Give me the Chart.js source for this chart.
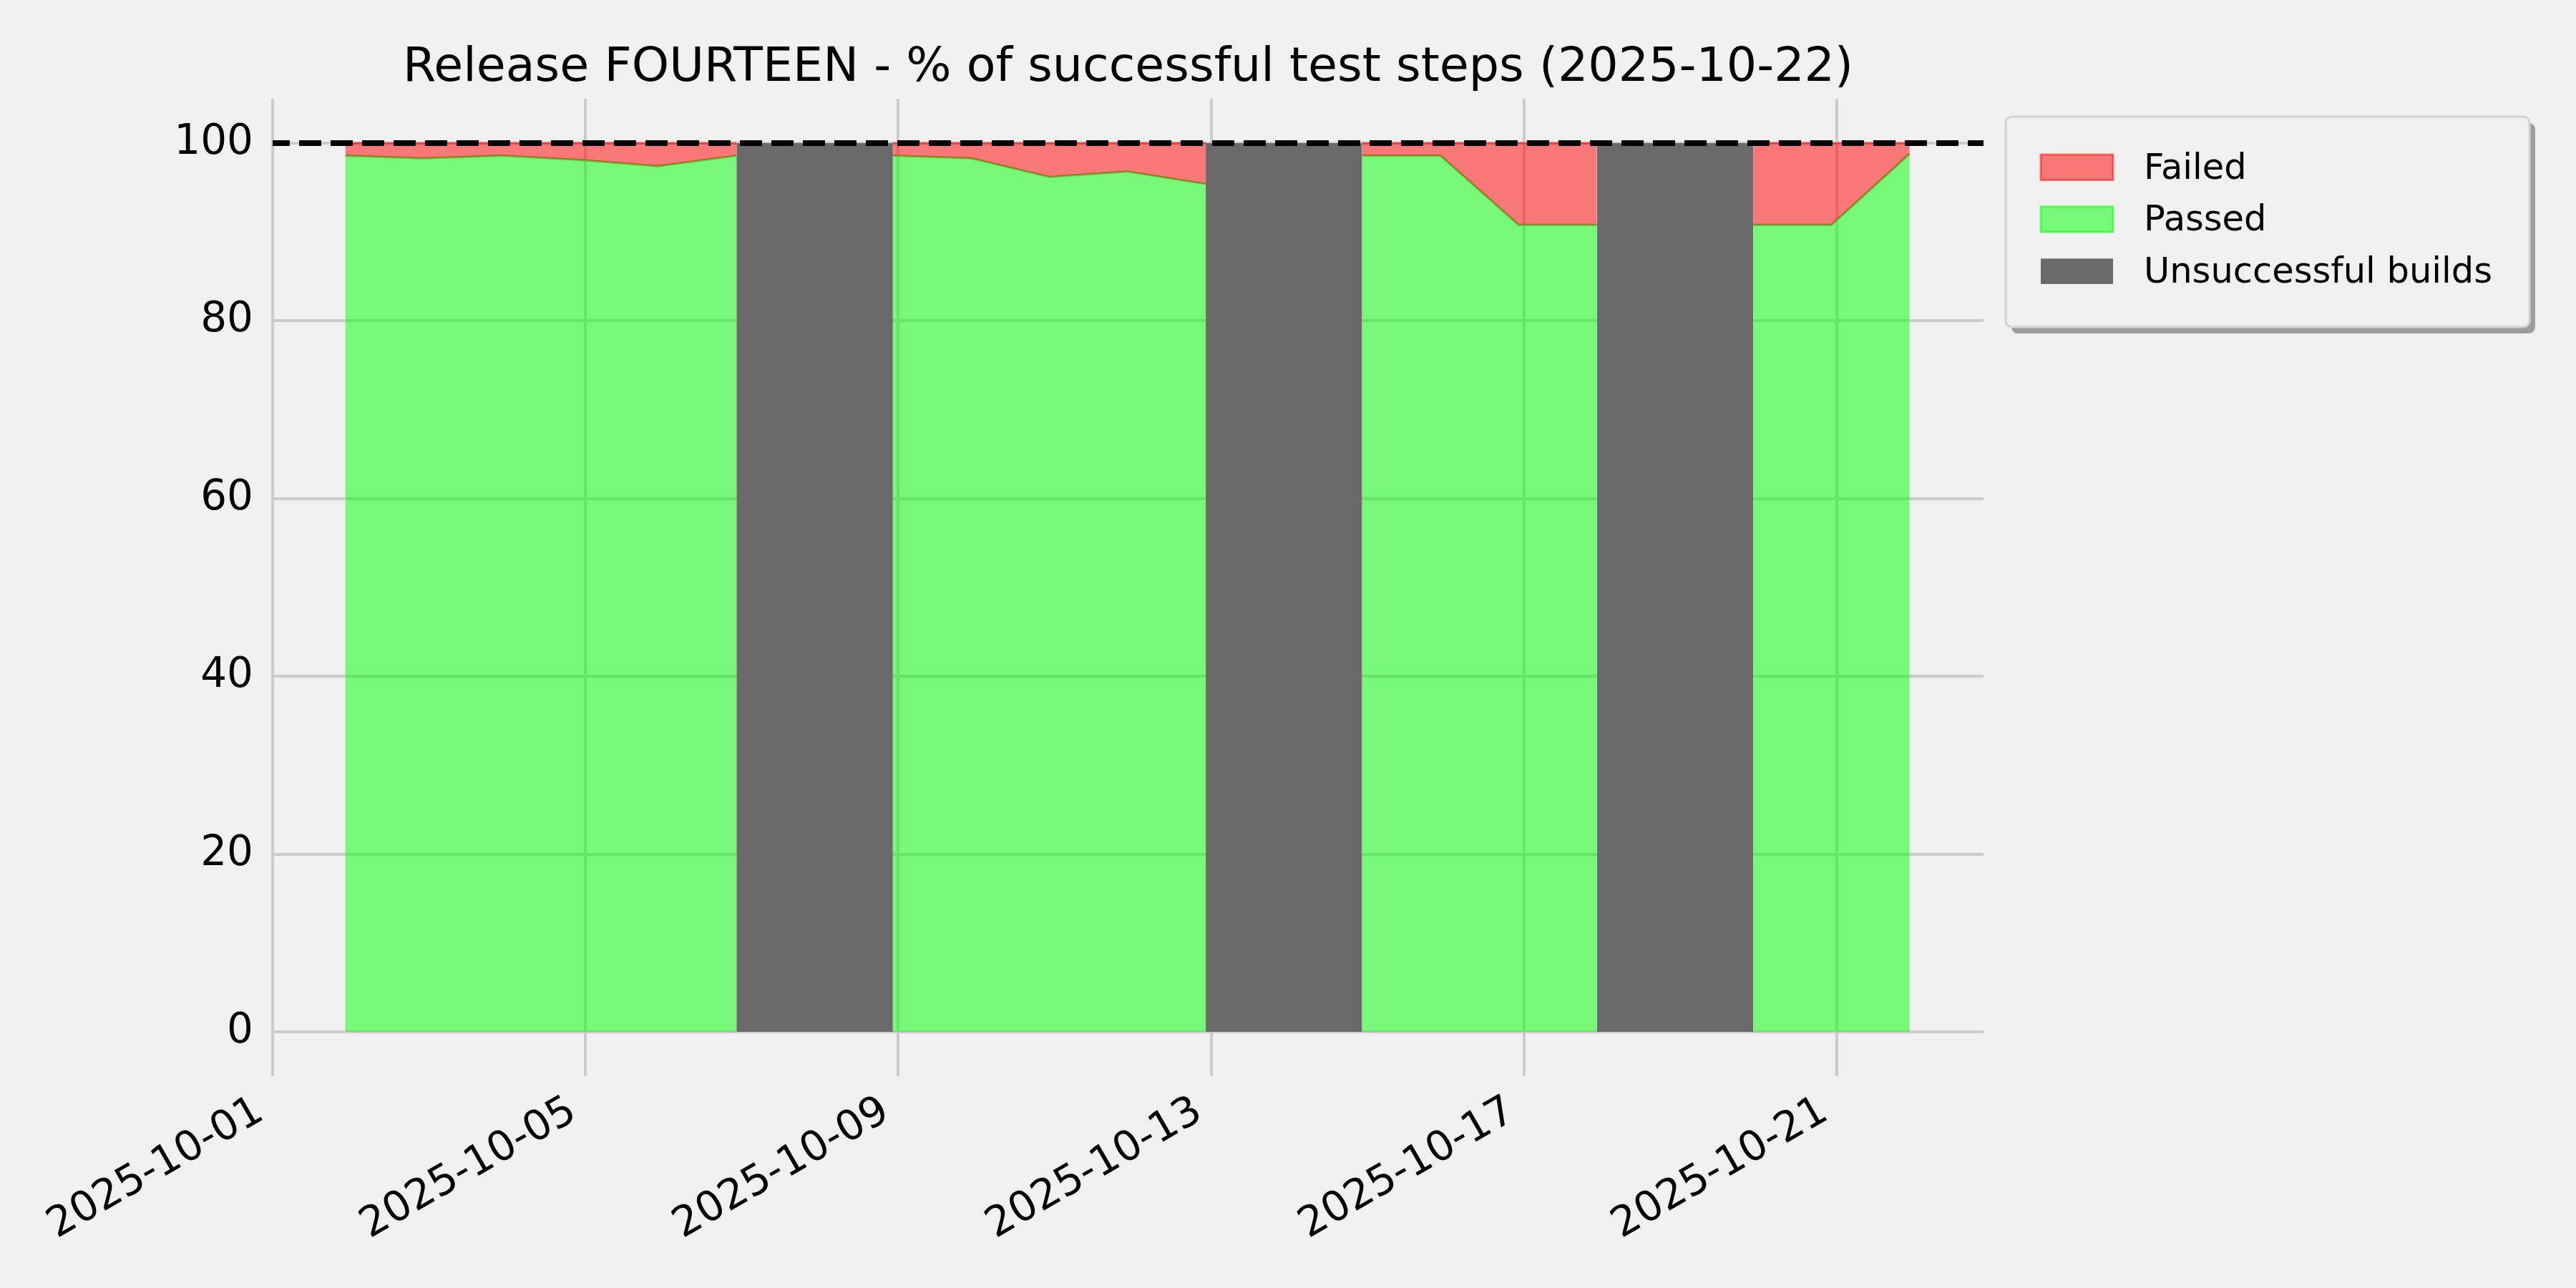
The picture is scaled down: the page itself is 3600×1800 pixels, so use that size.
<!DOCTYPE html>
<html>
<head>
<meta charset="utf-8">
<script src="https://cdn.jsdelivr.net/npm/chart.js@4.4.1/dist/chart.umd.min.js"></script>
<style>
  html, body { margin: 0; padding: 0; background: #f0f0f0; }
  #wrap { width: 3600px; height: 1800px; }
</style>
</head>
<body>
<div id="wrap"><canvas id="c" width="3600" height="1800"></canvas></div>
<script>
// ---------------- data ----------------
const chartTitle = 'Release FOURTEEN - % of successful test steps (2025-10-22)';
const buildDates = ['2025-10-01','2025-10-02','2025-10-03','2025-10-04','2025-10-05','2025-10-06','2025-10-07',
                    '2025-10-08','2025-10-09','2025-10-10','2025-10-11','2025-10-12','2025-10-13','2025-10-14',
                    '2025-10-15','2025-10-16','2025-10-17','2025-10-18','2025-10-19','2025-10-20','2025-10-21'];
const buildTime = 'T22:20:00Z';
const passedPct = [98.6, 98.3, 98.6, 98.1, 97.4, 98.6, null, 98.6, 98.3, 96.2, 96.8, 95.4, null, 98.6,
                   98.6, 90.8, 90.8, null, 90.8, 90.8, 98.8];
const failedPct = [1.4, 1.7, 1.4, 1.9, 2.6, 1.4, null, 1.4, 1.7, 3.8, 3.2, 4.6, null, 1.4,
                   1.4, 9.2, 9.2, null, 9.2, 9.2, 1.2];
const unsuccessfulBuilds = ['2025-10-07', '2025-10-13', '2025-10-18'];
const unsuccessfulBarValue = 100;
const targetPct = 100;
const xTickDates = ['2025-10-01','2025-10-05','2025-10-09','2025-10-13','2025-10-17','2025-10-21'];
const yTicks = [0, 20, 40, 60, 80, 100];
const xRangeStart = '2025-10-01T00:00:00Z';
const xRangeDays = 21.875;
const yRange = [-5, 105];

// ---------------- build datasets ----------------
const DAY = 86400000;
const xs = buildDates.map(d => Date.parse(d + buildTime));
const xMin = Date.parse(xRangeStart);
const xMax = xMin + xRangeDays * DAY;

const passedPts = xs.map((x, i) => ({ x, y: passedPct[i] }));
const failedPts = xs.map((x, i) => ({ x, y: passedPct[i] == null ? null : passedPct[i] + failedPct[i] }));
const grayPts = [];
unsuccessfulBuilds.forEach(d => {
  const i = buildDates.indexOf(d);
  grayPts.push({ x: xs[i - 1], y: unsuccessfulBarValue });
  grayPts.push({ x: xs[i + 1], y: unsuccessfulBarValue });
  grayPts.push({ x: xs[i + 1], y: null });
});
const targetPts = [{ x: xMin, y: targetPct }, { x: xMax, y: targetPct }];

const FONT = "'DejaVu Sans', 'Liberation Sans', sans-serif";

const bgPlugin = {
  id: 'bg',
  beforeDraw(chart) {
    const ctx = chart.ctx;
    ctx.save();
    ctx.fillStyle = '#f0f0f0';
    ctx.fillRect(0, 0, chart.width, chart.height);
    ctx.restore();
  }
};

function rr(ctx, x, y, w, h, r) {
  ctx.beginPath();
  ctx.moveTo(x + r, y);
  ctx.lineTo(x + w - r, y);
  ctx.quadraticCurveTo(x + w, y, x + w, y + r);
  ctx.lineTo(x + w, y + h - r);
  ctx.quadraticCurveTo(x + w, y + h, x + w - r, y + h);
  ctx.lineTo(x + r, y + h);
  ctx.quadraticCurveTo(x, y + h, x, y + h - r);
  ctx.lineTo(x, y + r);
  ctx.quadraticCurveTo(x, y, x + r, y);
  ctx.closePath();
}

const legendPlugin = {
  id: 'mplLegend',
  afterDraw(chart) {
    const ctx = chart.ctx;
    const ca = chart.chartArea;
    const bx = ca.right + 31, by = 163, bw = 732, bh = 294;
    ctx.save();
    // shadow
    rr(ctx, bx + 8, by + 9, bw, bh, 10);
    ctx.fillStyle = '#9c9c9c';
    ctx.fill();
    // frame
    rr(ctx, bx, by, bw, bh, 10);
    ctx.fillStyle = '#f0f0f0';
    ctx.fill();
    ctx.lineWidth = 3;
    ctx.strokeStyle = '#d3d3d3';
    ctx.stroke();
    const order = ['Failed', 'Passed', 'Unsuccessful builds'];
    ctx.font = '49.5px ' + FONT;
    ctx.textBaseline = 'middle';
    ctx.textAlign = 'left';
    order.forEach((label, k) => {
      const ds = chart.data.datasets.find(d => d.label === label);
      const px = bx + 49, py = by + 53 + k * 72.7, pw = 101, ph = 35.5;
      ctx.fillStyle = '#f0f0f0';
      ctx.fillRect(px, py, pw, ph);
      ctx.fillStyle = ds.backgroundColor;
      ctx.fillRect(px, py, pw, ph);
      if (ds.legendEdge) {
        ctx.lineWidth = 3;
        ctx.strokeStyle = ds.legendEdge;
        ctx.strokeRect(px, py, pw, ph);
      }
      ctx.fillStyle = '#000';
      ctx.fillText(label, bx + 193, py + ph / 2 + 3);
    });
    ctx.restore();
  }
};

new Chart(document.getElementById('c'), {
  type: 'line',
  data: {
    datasets: [
      {
        label: 'Target',
        data: targetPts,
        borderColor: '#000000',
        borderWidth: 8,
        borderDash: [31, 13],
        borderDashOffset: 7,
        pointRadius: 0,
        fill: false
      },
      {
        label: 'Unsuccessful builds',
        data: grayPts,
        backgroundColor: '#696969',
        borderColor: 'rgba(0,0,0,0)',
        borderWidth: 1,
        pointRadius: 0,
        spanGaps: false,
        fill: 'origin'
      },
      {
        label: 'Failed',
        data: failedPts,
        backgroundColor: 'rgba(255,0,0,0.5)',
        borderColor: 'rgba(255,0,0,0.5)',
        legendEdge: 'rgba(255,0,0,0.5)',
        borderWidth: 3,
        pointRadius: 0,
        spanGaps: false,
        fill: 3
      },
      {
        label: 'Passed',
        data: passedPts,
        backgroundColor: 'rgba(0,255,0,0.5)',
        borderColor: '#5ac83c',
        legendEdge: 'rgba(0,255,0,0.5)',
        borderWidth: 3,
        pointRadius: 0,
        spanGaps: false,
        fill: 'origin'
      }
    ]
  },
  options: {
    responsive: false,
    animation: false,
    devicePixelRatio: 1,
    layout: { padding: { left: 0, right: 828, top: 0, bottom: 0 } },
    elements: { line: { tension: 0 } },
    plugins: {
      legend: { display: false },
      tooltip: { enabled: false },
      title: {
        display: true,
        text: chartTitle,
        fullSize: false,
        color: '#000000',
        font: { family: FONT, size: 66.6, weight: 'normal', lineHeight: 1.2 },
        padding: { top: 56, bottom: 2 }
      }
    },
    scales: {
      x: {
        type: 'linear',
        min: xMin,
        max: xMax,
        afterBuildTicks: (scale) => { scale.ticks = xTickDates.map(d => ({ value: Date.parse(d + 'T00:00:00Z') })); },
        afterFit: (scale) => { scale.height = 296; },
        grid: { color: '#cbcbcb', lineWidth: 4, drawTicks: false },
        border: { display: false },
        ticks: {
          autoSkip: false,
          minRotation: 30,
          maxRotation: 30,
          padding: 15,
          labelOffset: -17,
          color: '#000000',
          font: { family: FONT, size: 58 },
          callback: (v) => new Date(v).toISOString().slice(0, 10)
        }
      },
      y: {
        type: 'linear',
        min: yRange[0],
        max: yRange[1],
        afterBuildTicks: (scale) => { scale.ticks = yTicks.map(v => ({ value: v })); },
        afterFit: (scale) => { scale.width = 381; },
        grid: { color: '#cbcbcb', lineWidth: 4, drawTicks: false },
        border: { display: false },
        ticks: {
          padding: 27,
          color: '#000000',
          font: { family: FONT, size: 58 },
          callback: (v) => String(v)
        }
      }
    }
  },
  plugins: [bgPlugin, legendPlugin]
});
</script>
</body>
</html>
